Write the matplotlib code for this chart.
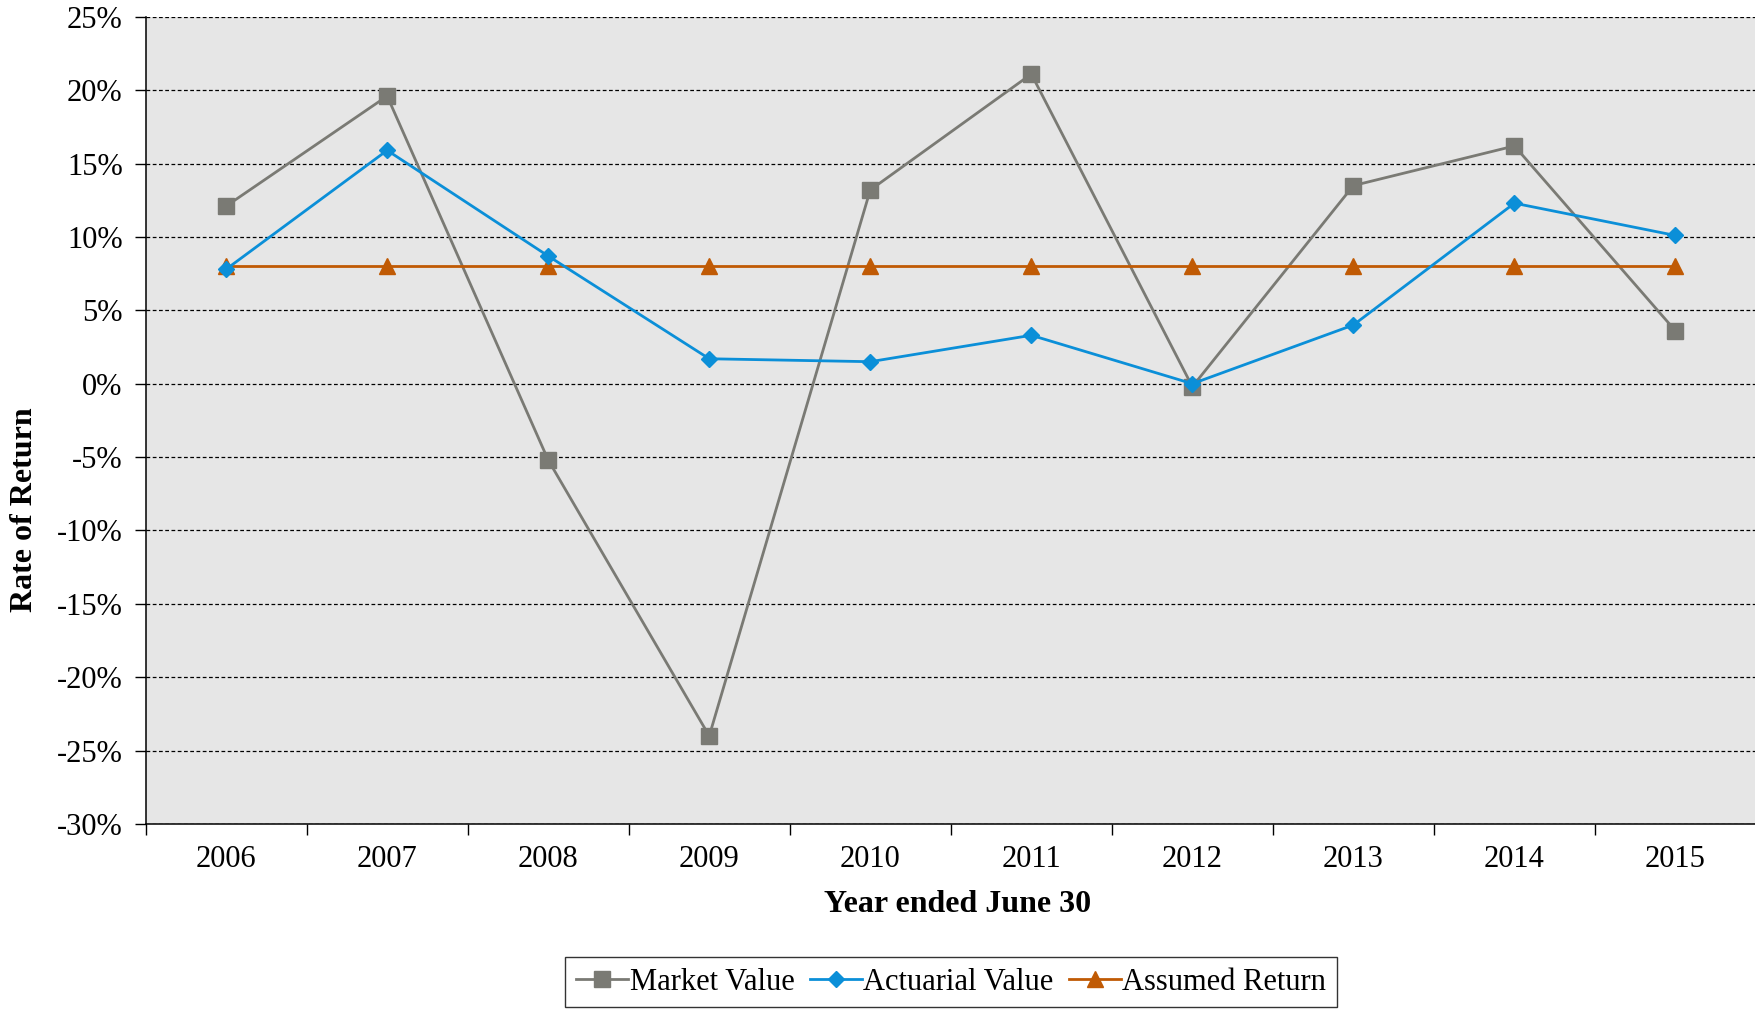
import numpy as np
import matplotlib
matplotlib.use("Agg")
import matplotlib.pyplot as plt
from matplotlib.ticker import FuncFormatter, FixedLocator

plt.rcParams["font.family"] = ["Liberation Serif", "DejaVu Serif"]

years = ["2006", "2007", "2008", "2009", "2010", "2011", "2012", "2013", "2014", "2015"]
market_value = [12.1, 19.6, -5.2, -24.0, 13.2, 21.1, -0.2, 13.5, 16.2, 3.6]
actuarial_value = [7.8, 15.9, 8.7, 1.7, 1.5, 3.3, 0.0, 4.0, 12.3, 10.1]
assumed_return = [8.0, 8.0, 8.0, 8.0, 8.0, 8.0, 8.0, 8.0, 8.0, 8.0]

W, H, DPI = 1756, 1010, 100
fig = plt.figure(figsize=(W / DPI, H / DPI), dpi=DPI)
ax = fig.add_axes([145.6 / W, 1 - 824 / H, 1 - 145.6 / W, (824 - 16.8) / H])
ax.set_facecolor("#e6e6e6")

x = np.arange(len(years))
ax.plot(x, market_value, color="#7a7a74", lw=2.0, marker="s", ms=12,
        label="Market Value", zorder=3)
ax.plot(x, actuarial_value, color="#0b8fd8", lw=2.0, marker="D", ms=8.5,
        label="Actuarial Value", zorder=4)
ax.plot(x, assumed_return, color="#c05a04", lw=2.0, marker="^", ms=11.5,
        label="Assumed Return", zorder=3)

ax.set_xlim(-0.5, len(years) - 0.5)
ax.set_ylim(-30, 25)
ax.set_yticks(np.arange(-30, 26, 5))
ax.yaxis.set_major_formatter(FuncFormatter(lambda v, _: f"{v:.0f}%"))
ax.yaxis.grid(True, color="black", ls=(0, (3, 2)), lw=0.9)
ax.set_axisbelow(True)

# category boundaries carry the tick marks, labels sit at the centres
ax.xaxis.set_major_locator(FixedLocator(np.arange(-0.5, len(years), 1.0)))
ax.xaxis.set_major_formatter(FuncFormatter(lambda v, _: ""))
ax.xaxis.set_minor_locator(FixedLocator(x))
ax.set_xticklabels(years, minor=True)
ax.tick_params(axis="x", which="major", direction="out", length=8, width=1, color="black")
ax.tick_params(axis="x", which="minor", length=0, pad=15, labelsize=22)
ax.tick_params(axis="y", direction="out", length=8, width=1, pad=8.5, labelsize=22)

for side in ("top", "right"):
    ax.spines[side].set_visible(False)
for side in ("left", "bottom"):
    ax.spines[side].set_color("black")
    ax.spines[side].set_linewidth(1.1)

fig.text(958 / W, 1 - 905 / H, "Year ended June 30", ha="center", va="center",
         fontsize=23, fontweight="bold")
fig.text(25 / W, 1 - 510 / H, "Rate of Return", ha="center", va="center",
         rotation=90, fontsize=23, fontweight="bold")

leg = fig.legend(loc="upper center", bbox_to_anchor=(951 / W, 1 - 957 / H), ncol=3,
                 frameon=True, fancybox=False, edgecolor="black", fontsize=22,
                 handlelength=1.7, handletextpad=0.05, columnspacing=0.5,
                 borderpad=0.35, borderaxespad=0)
leg.get_frame().set_linewidth(1.0)

fig.savefig("out.png", dpi=DPI)
